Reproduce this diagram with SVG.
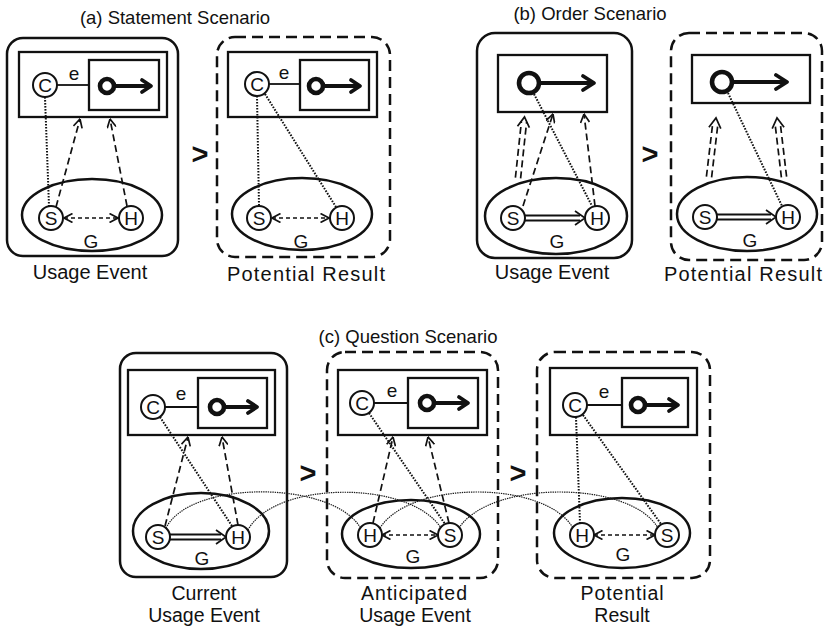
<svg xmlns="http://www.w3.org/2000/svg" width="828" height="627" viewBox="0 0 828 627">
<defs>
<style>
.box{fill:none;stroke:#111;stroke-width:2.5}
.dbox{fill:none;stroke:#111;stroke-width:2.5;stroke-dasharray:11 6}
.frame{fill:none;stroke:#111;stroke-width:2.3}
.ell{fill:none;stroke:#111;stroke-width:2.5}
.node{fill:#fff;stroke:#111;stroke-width:2}
.ring{fill:#fff;stroke:#111;stroke-width:4.6}
.bold{fill:none;stroke:#111;stroke-width:3.8;stroke-linecap:round;stroke-linejoin:round}
.thin{fill:none;stroke:#111;stroke-width:1.8}
.dash{fill:none;stroke:#111;stroke-width:1.7;stroke-dasharray:7 4}
.sdash{fill:none;stroke:#111;stroke-width:1.7;stroke-dasharray:4 3}
.dot{fill:none;stroke:#111;stroke-width:2;stroke-dasharray:1.6 1.4}
.arc{fill:none;stroke:#1a1a1a;stroke-width:1.2;stroke-dasharray:1.4 0.9}
.head{fill:none;stroke:#111;stroke-width:1.7;stroke-linejoin:miter}
text{font-family:"Liberation Sans",Arial,sans-serif;fill:#111}
.ttl{font-size:18.5px;text-anchor:middle}
.lbl{font-size:20px;text-anchor:middle}
.lbl2{font-size:19.5px;text-anchor:middle}
.n{font-size:19px;text-anchor:middle}
.gt{font-size:29px;font-weight:bold;text-anchor:middle}
</style>
<marker id="oa" viewBox="0 0 10 10" refX="9.5" refY="5" markerWidth="10" markerHeight="10" markerUnits="userSpaceOnUse" orient="auto-start-reverse">
<path d="M1,0.5 L9.5,5 L1,9.5" fill="none" stroke="#111" stroke-width="1.7" stroke-dasharray="none"/>
</marker>
</defs>

<!-- Titles and labels -->
<g id="titles">
<text class="ttl" x="175" y="24">(a) Statement Scenario</text>
<text class="ttl" x="590" y="20">(b) Order Scenario</text>
<text class="ttl" x="408" y="343">(c) Question Scenario</text>
<text class="lbl" x="90" y="279">Usage Event</text>
<text class="lbl" x="306" y="281" textLength="158" lengthAdjust="spacing">Potential Result</text>
<text class="lbl" x="552" y="279">Usage Event</text>
<text class="lbl" x="743" y="281" textLength="158" lengthAdjust="spacing">Potential Result</text>
<text class="lbl2" x="204" y="600">Current</text>
<text class="lbl2" x="204" y="622">Usage Event</text>
<text class="lbl2" x="414" y="600" textLength="106" lengthAdjust="spacing">Anticipated</text>
<text class="lbl2" x="415" y="622">Usage Event</text>
<text class="lbl2" x="622" y="600" textLength="83" lengthAdjust="spacing">Potential</text>
<text class="lbl2" x="622" y="622">Result</text>
<text class="gt" x="200" y="164">&gt;</text>
<text class="gt" x="650" y="164">&gt;</text>
<text class="gt" x="308" y="483">&gt;</text>
<text class="gt" x="518" y="483">&gt;</text>
</g>

<!-- (a) left: Usage Event -->
<g id="a1-event">
<rect class="box" x="7" y="38" width="171" height="218" rx="16"/>
<rect class="frame" x="19" y="52" width="148" height="65"/>
<ellipse class="ell" cx="92" cy="215" rx="70" ry="36"/>
</g>
<g id="a1-content">
<rect class="frame" x="89" y="60" width="70" height="50"/>
<path class="thin" d="M57,85 H89"/>
<text class="n" x="74" y="80">e</text>
<path class="bold" d="M115,86 H150 M142,80 L151,86 L142,92"/>
<circle class="ring" cx="107" cy="86" r="7"/>
</g>
<!-- (a) right: Potential Result -->
<g id="a2-event">
<rect class="dbox" x="217" y="37" width="173" height="220" rx="18"/>
<rect class="frame" x="228" y="52" width="149" height="65"/>
<ellipse class="ell" cx="302" cy="214" rx="70" ry="36"/>
</g>
<g id="a2-content">
<rect class="frame" x="300" y="60" width="69" height="50"/>
<path class="thin" d="M269,84 H300"/>
<text class="n" x="284" y="79">e</text>
<path class="bold" d="M324,86 H359 M351,80 L360,86 L351,92"/>
<circle class="ring" cx="316" cy="86" r="7"/>
</g>

<!-- (b) left -->
<g id="b1-event">
<rect class="box" x="477" y="33" width="155" height="225" rx="18"/>
<rect class="frame" x="498" y="55" width="109" height="57"/>
<ellipse class="ell" cx="556" cy="216" rx="71" ry="38"/>
</g>
<g id="b1-content">
<path class="bold" d="M540,83 H593 M583,76 L594,83 L583,90"/>
<circle class="ring" cx="529" cy="83" r="10"/>
</g>
<!-- (b) right -->
<g id="b2-event">
<rect class="dbox" x="671" y="33" width="151" height="227" rx="18"/>
<rect class="frame" x="692" y="55" width="118" height="48"/>
<ellipse class="ell" cx="747" cy="214" rx="70" ry="37"/>
</g>
<g id="b2-content">
<path class="bold" d="M733,82 H786 M776,75 L787,82 L776,89"/>
<circle class="ring" cx="722" cy="82" r="10"/>
</g>

<!-- (c) current -->
<g id="c1-event">
<rect class="box" x="120" y="353" width="167" height="224" rx="16"/>
<rect class="frame" x="128" y="370" width="147" height="65"/>
<ellipse class="ell" cx="201" cy="531" rx="68" ry="38"/>
</g>
<g id="c1-content">
<rect class="frame" x="198" y="378" width="69" height="50"/>
<path class="thin" d="M165,407 H198"/>
<text class="n" x="181" y="400">e</text>
<path class="bold" d="M225,407 H256 M248,401 L257,407 L248,413"/>
<circle class="ring" cx="217" cy="407" r="7"/>
</g>
<!-- (c) anticipated -->
<g id="c2-event">
<rect class="dbox" x="327" y="352" width="171" height="226" rx="18"/>
<rect class="frame" x="338" y="370" width="149" height="65"/>
<ellipse class="ell" cx="411" cy="534" rx="69" ry="34"/>
</g>
<g id="c2-content">
<rect class="frame" x="408" y="378" width="70" height="50"/>
<path class="thin" d="M374,403 H408"/>
<text class="n" x="392" y="397">e</text>
<path class="bold" d="M435,403 H467 M459,397 L468,403 L459,409"/>
<circle class="ring" cx="427" cy="403" r="7"/>
</g>
<!-- (c) potential -->
<g id="c3-event">
<rect class="dbox" x="537" y="352" width="173" height="226" rx="18"/>
<rect class="frame" x="550" y="368" width="147" height="67"/>
<ellipse class="ell" cx="622" cy="533" rx="68" ry="35"/>
</g>
<g id="c3-content">
<rect class="frame" x="622" y="378" width="66" height="49"/>
<path class="thin" d="M587,405 H622"/>
<text class="n" x="604" y="398">e</text>
<path class="bold" d="M646,405 H677 M669,399 L678,405 L669,411"/>
<circle class="ring" cx="638" cy="405" r="7"/>
</g>

<!-- Connectors -->
<g id="connectors">
<!-- (a) left -->
<path class="dot" d="M45,97 L49,206"/>
<path class="dash" d="M56,207 L80,119" marker-end="url(#oa)"/>
<path class="dash" d="M127,206 L110,119" marker-end="url(#oa)"/>
<path class="sdash" d="M64,218 H118" marker-start="url(#oa)" marker-end="url(#oa)"/>
<!-- (a) right -->
<path class="dot" d="M257,96 L259,206"/>
<path class="dot" d="M265,94 L336,207"/>
<path class="sdash" d="M272,218 H329" marker-start="url(#oa)" marker-end="url(#oa)"/>
<!-- (b) left -->
<path class="dash" d="M520.6,178.3 L526.6,122.2 M515.4,177.7 L521.4,121.7"/>
<path class="head" d="M517.5,126.3 L524.5,117 L529.4,127.6"/>
<path class="dash" d="M523,206 L553,114" marker-end="url(#oa)"/>
<path class="dot" d="M534,94 L592,206"/>
<path class="dash" d="M595,206 L584,114" marker-end="url(#oa)"/>
<path class="thin" d="M525,215.5 H580 M525,220.5 H580"/>
<path class="head" d="M575,211 L585,218 L575,225"/>
<!-- (b) right -->
<path class="dash" d="M711.6,177.3 L718,123.3 M706.4,176.7 L712.8,122.7"/>
<path class="head" d="M708.9,127.2 L716,118 L720.8,128.6"/>
<path class="dash" d="M786.6,176.7 L780.2,122.7 M781.4,177.3 L775,123.3"/>
<path class="head" d="M772.2,128.6 L777,118 L784.1,127.2"/>
<path class="dot" d="M728,93 L782,206"/>
<path class="thin" d="M717,214.5 H771 M717,219.5 H771"/>
<path class="head" d="M766,210 L776,217 L766,224"/>
<!-- (c) current -->
<path class="dash" d="M165,526 L188,437" marker-end="url(#oa)"/>
<path class="dot" d="M160,417 L232,526"/>
<path class="dash" d="M238,525 L222,437" marker-end="url(#oa)"/>
<path class="thin" d="M170,534.5 H221 M170,539.5 H221"/>
<path class="head" d="M216,530 L226,537 L216,544"/>
<!-- (c) anticipated -->
<path class="dash" d="M373,523 L393,437" marker-end="url(#oa)"/>
<path class="dot" d="M369,413 L445,524"/>
<path class="dash" d="M449,523 L428,437" marker-end="url(#oa)"/>
<path class="sdash" d="M382,535 H438" marker-start="url(#oa)" marker-end="url(#oa)"/>
<!-- (c) potential -->
<path class="dot" d="M576,417 L580,523"/>
<path class="dot" d="M583,415 L661,524"/>
<path class="sdash" d="M594,535 H655" marker-start="url(#oa)" marker-end="url(#oa)"/>
<!-- identity arcs across (c) -->
<path class="arc" d="M166,528 C190,480 330,480 360,527"/>
<path class="arc" d="M248,530 C275,480 410,480 441,528"/>
<path class="arc" d="M380,528 C410,480 545,480 573,528"/>
<path class="arc" d="M459,528 C490,480 630,480 658,528"/>
</g>

<!-- Circle nodes -->
<g id="a1-C"><circle class="node" cx="45" cy="85" r="12"/><text class="n" x="45" y="92">C</text></g>
<g id="a1-S"><circle class="node" cx="51" cy="218" r="12"/><text class="n" x="51" y="225">S</text></g>
<g id="a1-H"><circle class="node" cx="131" cy="218" r="12"/><text class="n" x="131" y="225">H</text></g>
<g id="a1-G"><text class="n" x="91" y="248">G</text></g>

<g id="a2-C"><circle class="node" cx="257" cy="84" r="12"/><text class="n" x="257" y="91">C</text></g>
<g id="a2-S"><circle class="node" cx="259" cy="218" r="12"/><text class="n" x="259" y="225">S</text></g>
<g id="a2-H"><circle class="node" cx="342" cy="218" r="12"/><text class="n" x="342" y="225">H</text></g>
<g id="a2-G"><text class="n" x="301" y="248">G</text></g>

<g id="b1-S"><circle class="node" cx="513" cy="218" r="12"/><text class="n" x="513" y="225">S</text></g>
<g id="b1-H"><circle class="node" cx="597" cy="218" r="12"/><text class="n" x="597" y="225">H</text></g>
<g id="b1-G"><text class="n" x="557" y="248">G</text></g>

<g id="b2-S"><circle class="node" cx="705" cy="217" r="12"/><text class="n" x="705" y="224">S</text></g>
<g id="b2-H"><circle class="node" cx="788" cy="217" r="12"/><text class="n" x="788" y="224">H</text></g>
<g id="b2-G"><text class="n" x="750" y="247">G</text></g>

<g id="c1-C"><circle class="node" cx="153" cy="407" r="12"/><text class="n" x="153" y="414">C</text></g>
<g id="c1-S"><circle class="node" cx="158" cy="537" r="12"/><text class="n" x="158" y="544">S</text></g>
<g id="c1-H"><circle class="node" cx="238" cy="537" r="12"/><text class="n" x="238" y="544">H</text></g>
<g id="c1-G"><text class="n" x="202" y="565">G</text></g>

<g id="c2-C"><circle class="node" cx="362" cy="403" r="12"/><text class="n" x="362" y="410">C</text></g>
<g id="c2-H"><circle class="node" cx="370" cy="535" r="12"/><text class="n" x="370" y="542">H</text></g>
<g id="c2-S"><circle class="node" cx="450" cy="535" r="12"/><text class="n" x="450" y="542">S</text></g>
<g id="c2-G"><text class="n" x="413" y="563">G</text></g>

<g id="c3-C"><circle class="node" cx="575" cy="405" r="12"/><text class="n" x="575" y="412">C</text></g>
<g id="c3-H"><circle class="node" cx="582" cy="535" r="12"/><text class="n" x="582" y="542">H</text></g>
<g id="c3-S"><circle class="node" cx="667" cy="535" r="12"/><text class="n" x="667" y="542">S</text></g>
<g id="c3-G"><text class="n" x="623" y="561">G</text></g>
</svg>
